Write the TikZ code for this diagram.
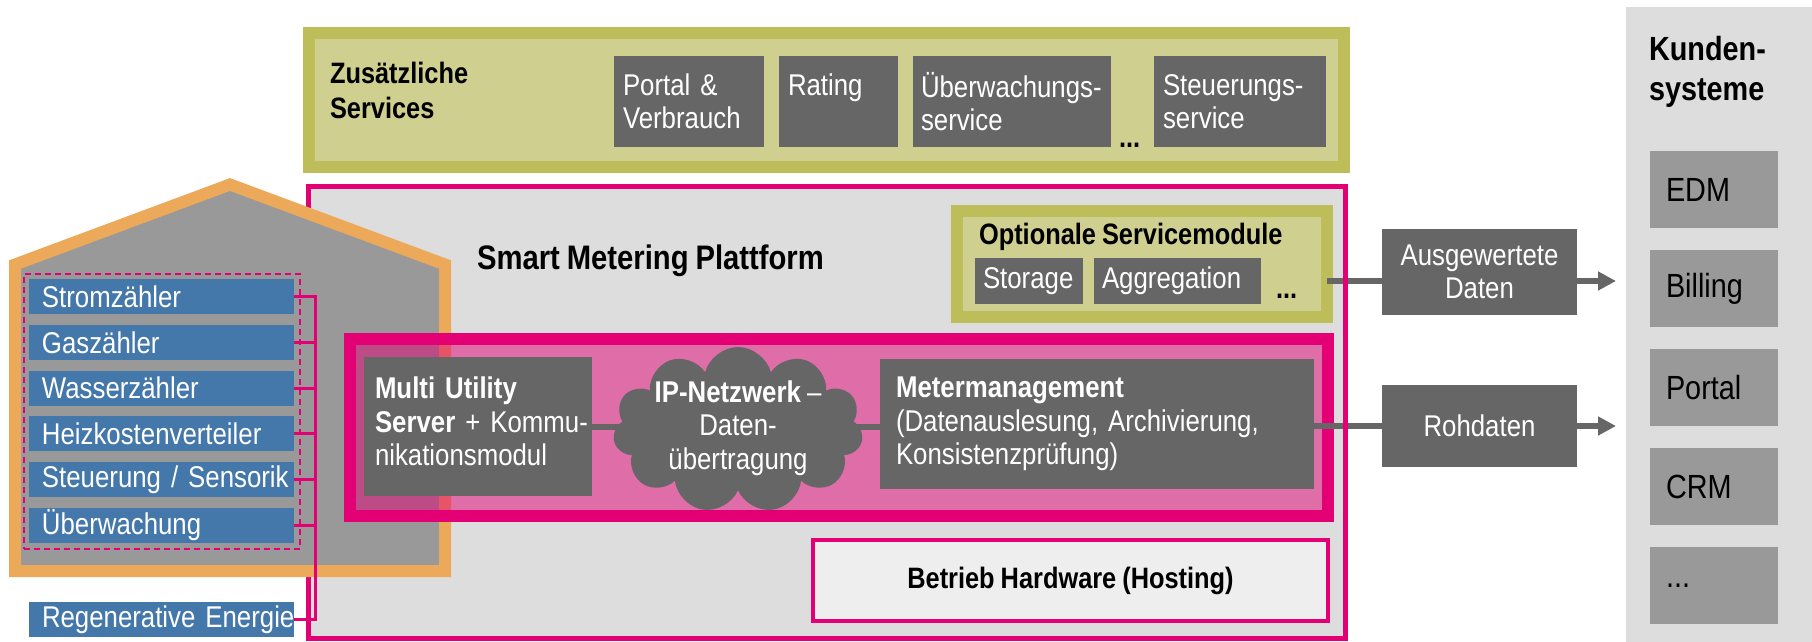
\documentclass[tikz,border=0pt]{standalone}
\usepackage{fontspec}
\setmainfont{Liberation Sans}[FakeStretch=0.86,WordSpace=0.85]
\usepackage{tikz}
\usetikzlibrary{positioning,matrix,fit,shapes.symbols,arrows.meta}

\definecolor{tmagenta}{HTML}{E20074}
\definecolor{svcolive}{HTML}{BDBD5A}
\definecolor{svcpale}{HTML}{CFCF8F}
\definecolor{boxgray}{HTML}{666666}
\definecolor{platgray}{HTML}{DDDDDD}
\definecolor{housegray}{HTML}{999999}
\definecolor{houseorange}{HTML}{EDA95A}
\definecolor{meterblue}{HTML}{4477AA}
\definecolor{hostgray}{HTML}{EEEEEE}
\hyphenpenalty=10000
\exhyphenpenalty=10000

\begin{document}
\begin{tikzpicture}[x=1pt,y=-1pt,
    every node/.style={inner sep=0pt,outer sep=0pt},
    regtext/.style={font=\fontsize{30}{33.5}\selectfont},
    boldtext/.style={font=\fontsize{29.5}{35}\selectfont\bfseries},
    svcframe/.style={anchor=north west,draw=svcolive,fill=svcpale,line width=12pt},
    platframe/.style={anchor=north west,draw=tmagenta,fill=platgray,line width=5pt},
    ipframe/.style={anchor=north west,draw=tmagenta,fill=tmagenta,fill opacity=0.5,line width=12pt},
    darkbox/.style={fill=boxgray,text=white,regtext},
    svcbox/.style={darkbox,anchor=north west,minimum height=91pt,align=left,inner xsep=9pt},
    modbox/.style={darkbox,anchor=north west,minimum height=46pt,align=left,inner xsep=8pt},
    meter/.style={fill=meterblue,text=white,regtext,minimum height=35pt,text width=239pt,inner xsep=13pt,align=left},
    meterframe/.style={draw=tmagenta,line width=2pt,dash pattern=on 6pt off 4pt,inner sep=5.5pt},
    house/.style={draw=houseorange,fill=housegray,line width=12pt},
    kundbox/.style={fill=housegray,font=\fontsize{33.5}{38}\selectfont,minimum height=77pt,text width=96pt,inner xsep=16pt,align=left},
    hostbox/.style={draw=tmagenta,fill=hostgray,line width=4pt,boldtext},
    ipcloud/.style={cloud,cloud puffs=11,aspect=1.5,fill=boxgray,minimum width=250pt,minimum height=166pt},
    bus/.style={draw=tmagenta,line width=3pt},
    link/.style={draw=boxgray,line width=6pt},
    feed/.style={link,-{Triangle[width=18pt,length=18pt]},shorten >=10pt},
    dots/.style={boldtext,anchor=base west}]
  \useasboundingbox (0,0) rectangle (1812,642);

  %%%%% ADDITIONAL SERVICES
  \node[svcframe,minimum width=1035pt,minimum height=134pt] (svc) at (309,33) {};
  \node[boldtext,anchor=west,align=left] (svctitle) at (330,90) {Zusätzliche\\Services};
  \node[svcbox,text width=132pt] (portal) at (614,56) {Portal \&\\Verbrauch};
  \node[svcbox,text width=101pt,right=15pt of portal] (rating) {Rating\\\phantom{R}};
  \node[svcbox,text width=182pt,inner xsep=8pt,right=15pt of rating] (ueberw) {Überwachungs-\\service};
  \node[svcbox,text width=154pt,right=43pt of ueberw] (steuer) {Steuerungs-\\service};
  \node[dots] (svcdots) at (1119,147) {...};

  %%%%% THE PLATFORM
  \node[platframe,minimum width=1037pt,minimum height=451.5pt] (plat) at (308,186.5) {};
  \node[font=\fontsize{34}{40}\selectfont\bfseries,anchor=base west] (plattitle) at (477,269) {Smart Metering Plattform};

  %%%%% THE HOUSE
  \draw[house] (15,264.5) -- (230,184.5) -- (445,264.5) -- (445,571) -- (15,571) -- cycle;
  \matrix (meters) [matrix of nodes,anchor=north west,row sep=10.8pt,nodes={meter}] at (29,279) {
    Stromzähler \\
    Gaszähler \\
    Wasserzähler \\
    Heizkostenverteiler \\
    Steuerung~/~Sensorik \\
    Überwachung \\
  };
  \node[meterframe,fit=(meters)] (meterfrm) {};
  \node[meter,anchor=north west] (regen) at (29,602) {Regenerative~Energie};
  % Links from the meters to the bus
  \coordinate (busline) at (315,0);
  \draw[bus] (meters-1-1.east) -| (busline |- regen.east) -- (regen.east);
  \foreach \r in {2,...,6}
    \draw[bus] (meters-\r-1.east) -- (meters-\r-1.east -| busline);

  %%%%% OPTIONAL MODULES
  \node[svcframe,minimum width=370pt,minimum height=106pt] (optfrm) at (957,211) {};
  \node[boldtext,anchor=base west] (opttitle) at (979,244) {Optionale Servicemodule};
  \node[modbox,text width=92pt] (storage) at (975,258) {Storage};
  \node[modbox,text width=151pt,right=11pt of storage] (aggreg) {Aggregation};
  \node[dots] (optdots) at (1276,298) {...};

  %%%%% IP NETWORK
  \node[ipframe,minimum width=978pt,minimum height=177pt] (ipbox) at (350,339) {};
  \node[darkbox,anchor=north west,minimum width=228pt,minimum height=139pt,text width=206pt,inner xsep=11pt,text depth=77pt,align=left] (mus) at (364,357)
    {\textbf{Multi Utility}\\\textbf{Server}~+~Kommu-\\nikationsmodul};
  \node[darkbox,anchor=north west,minimum width=434pt,minimum height=130pt,text width=402pt,inner xsep=16pt,align=left] (mm) at (880,359)
    {\textbf{Metermanagement}\\(Datenauslesung,~Archivierung,\\Konsistenzprüfung)};
  \draw[link] (mus.east) -- (mus.east -| mm.west);
  \node[ipcloud] (ipnet) at (738,430) {};
  \node[regtext,text=white,align=center] (iptext) at (738,428) {\textbf{IP-Netzwerk} –\\Daten-\\übertragung};

  %%%%% HOSTING
  \node[hostbox,minimum width=515pt,minimum height=81pt] (hosting) at (1070.5,580.5) {Betrieb Hardware (Hosting)};

  %%%%% CUSTOMER SYSTEMS
  \node[anchor=north west,fill=platgray,minimum width=186pt,minimum height=635pt] (kunden) at (1626,7) {};
  \node[font=\fontsize{33.5}{40}\selectfont\bfseries,anchor=west,align=left] (kundtitle) at (1649,71.5) {Kunden-\\systeme};
  \matrix (kundlist) [matrix of nodes,anchor=north west,row sep=22pt,nodes={kundbox}] at (1650,151) {
    EDM \\
    Billing \\
    Portal \\
    CRM \\
    ... \\
  };

  %%%%% DATA FLOWS
  \node[darkbox,anchor=north west,minimum width=195pt,minimum height=86pt,align=center] (ausgew) at (1382,229) {Ausgewertete\\Daten};
  \node[darkbox,minimum width=195pt,minimum height=82pt,below=70pt of ausgew] (rohdaten) {Rohdaten};
  \draw[link] (optfrm.east |- storage.east) -- (ausgew.west |- storage.east);
  \draw[feed] (ausgew.east |- storage.east) -- (kunden.west |- storage.east);
  \draw[link] (mm.east |- rohdaten.west) -- (rohdaten.west);
  \draw[feed] (rohdaten.east) -- (rohdaten.east -| kunden.west);
  % platform edge on top of the flows
  \draw[tmagenta,line width=5pt] (plat.north east) -- (plat.south east);
\end{tikzpicture}
\end{document}
